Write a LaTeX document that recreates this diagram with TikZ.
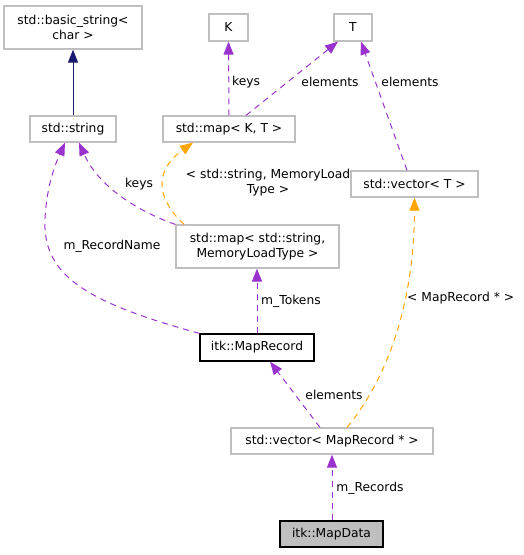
\documentclass[tikz,border=0pt]{standalone}
\usepackage{fontspec}
\setmainfont{DejaVu Sans}
\usetikzlibrary{arrows.meta}
\definecolor{edgepurple}{HTML}{9A32CD}
\definecolor{edgeorange}{HTML}{FFA500}
\definecolor{edgenavy}{HTML}{191970}
\definecolor{boxgray}{HTML}{BFBFBF}
\begin{document}
\begin{tikzpicture}[x=1pt,y=-1pt,
  font=\fontsize{12.3}{15}\selectfont,
  cls/.style={draw=boxgray,line width=1.2pt,fill=white,inner sep=0pt,align=center},
  doc/.style={draw=black,line width=1.2pt,fill=white,inner sep=0pt,align=center},
  cur/.style={draw=black,line width=1.2pt,fill=boxgray,inner sep=0pt,align=center},
  usage/.style={draw=edgepurple,line width=1pt,dash pattern=on 6pt off 5pt,
    -{Triangle[length=13pt,width=10pt]}},
  tmpl/.style={draw=edgeorange,line width=1pt,dash pattern=on 6pt off 5pt,
    -{Triangle[length=13pt,width=10pt]}},
  inherit/.style={draw=edgenavy,line width=1pt,
    -{Triangle[length=13pt,width=10pt]}},
  lbl/.style={inner sep=0pt,align=center}]
\useasboundingbox (0,0) rectangle (524,555);
\node[cls,minimum width=138pt,minimum height=43pt] (bstr) at (73,27.5) {std::basic\_string\textless\\char \textgreater};
\node[cls,minimum width=86pt,minimum height=26pt] (str) at (73,129) {std::string};
\node[cls,minimum width=39pt,minimum height=27pt] (K) at (228.5,27.5) {K};
\node[cls,minimum width=38pt,minimum height=27pt] (T) at (353,27.5) {T};
\node[cls,minimum width=132pt,minimum height=26pt] (mapKT) at (229,129) {std::map\textless{} K, T \textgreater};
\node[cls,minimum width=127pt,minimum height=26pt] (vecT) at (414.5,184) {std::vector\textless{} T \textgreater};
\node[cls,minimum width=163pt,minimum height=43pt] (mapSM) at (257.5,246.5) {std::map\textless{} std::string,\\MemoryLoadType \textgreater};
\node[doc,minimum width=114pt,minimum height=27pt] (rec) at (257,347.5) {itk::MapRecord};
\node[cls,minimum width=202pt,minimum height=26pt] (vecMR) at (332,441) {std::vector\textless{} MapRecord * \textgreater};
\node[cur,minimum width=103pt,minimum height=26pt] (data) at (331.5,534) {itk::MapData};

\draw[inherit] (str.north) -- (bstr.south);
\draw[usage] (mapKT.north) -- (K.south);
\node[lbl,anchor=west] (lkeys1) at (232,82) {keys};
\draw[usage] (mapKT.north -| 246,0) -- (T.south -| 338,0);
\node[lbl] (lel1) at (330,82) {elements};
\draw[usage] (vecT.north -| 407,0) -- (T.south -| 361,0);
\node[lbl] (lel2) at (410,82) {elements};

\draw[usage] (mapSM.north west) .. controls (145,214) and (100,190) .. (str.south -| 79,0);
\node[lbl] (lkeys2) at (139,184) {keys};
\draw[tmpl] (mapSM.north -| 184,0) .. controls (158,200) and (152,172) .. (mapKT.south -| 193,0);
\node[lbl] (ltm1) at (268,183) {\textless{} std::string, MemoryLoad\\Type \textgreater};

\draw[usage] (rec.north west) .. controls (85,302) and (42,275) .. (45,218) .. controls (47,185) and (55,165) .. (str.south -| 65,0);
\node[lbl] (lrn) at (112,246) {m\_RecordName};
\draw[usage] (rec.north) -- (mapSM.south -| rec.north);
\node[lbl,anchor=west] (ltok) at (261,301) {m\_Tokens};

\draw[usage] (vecMR.north -| 320,0) -- (rec.south -| 270,0);
\node[lbl] (lel3) at (334,395) {elements};
\draw[tmpl] (vecMR.north -| 347,0) .. controls (378,390) and (414,320) .. (vecT.south);
\node[lbl,anchor=west] (ltm2) at (407,298) {\textless{} MapRecord * \textgreater};

\draw[usage] (data.north -| vecMR.south) -- (vecMR.south);
\node[lbl] (lrec) at (370,488) {m\_Records};
\end{tikzpicture}
\end{document}
